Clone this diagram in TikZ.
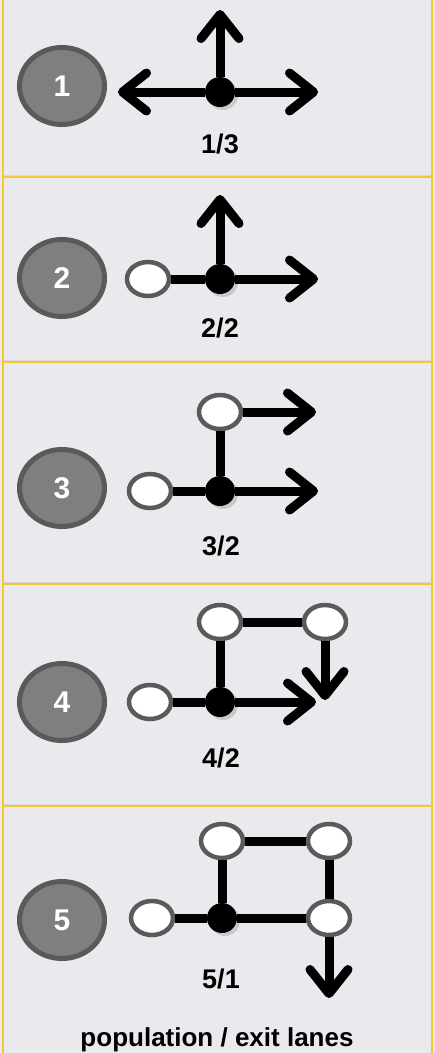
\documentclass[tikz,border=0pt]{standalone}
\usepackage{fontspec}
\setmainfont{Liberation Sans}
\usetikzlibrary{arrows.meta,shapes.geometric,shadows}
\definecolor{bg}{RGB}{233,233,238}
\definecolor{frame}{RGB}{245,200,50}
\definecolor{numfill}{RGB}{127,127,127}
\definecolor{numedge}{RGB}{90,90,90}
\tikzset{
  numnode/.style={ellipse, minimum width=85pt, minimum height=77pt, inner sep=0pt,
    draw=numedge, line width=5pt, fill=numfill, text=white,
    font=\bfseries\fontsize{30}{30}\selectfont},
  opennode/.style={ellipse, minimum width=42pt, minimum height=34pt, inner sep=0pt,
    draw=numedge, line width=4.5pt, fill=white},
  junc/.style={circle, fill=black, minimum size=30pt, inner sep=0pt,
    drop shadow={opacity=0.3, shadow xshift=3pt, shadow yshift=-3pt}},
  lane/.style={line width=9pt, draw=black, line cap=butt,
    preaction={draw=black, opacity=0.3, transform canvas={shift={(3pt,-3pt)}}}},
  arr/.style={lane, -{Straight Barb[length=24pt,width=38pt,round]}},
  lbl/.style={anchor=base, font=\bfseries\fontsize{27}{27}\selectfont},
  sep/.style={draw=frame, line width=2pt}
}
\begin{document}
\begin{tikzpicture}[x=1pt,y=-1pt]
\fill[bg] (0,0) rectangle (435,1053);
\useasboundingbox (0,0) rectangle (435,1053);
% frame
\draw[sep] (3,0) -- (3,1053);
\draw[sep] (432,0) -- (432,1053);
\foreach \yy in {177,362,584,806} {
  \draw[draw=black!15, line width=1pt] (4,\yy-2) -- (431,\yy-2);
  \draw[sep] (3,\yy) -- (432,\yy);
}

% ---------- panel 1
\node[numnode] (c1) at (62,86) {1};
\node[junc] (j1) at (220,92) {};
\coordinate (l1) at (118,92);
\coordinate (r1) at (318,92);
\coordinate (u1) at (220,10);
\draw[arr] (j1) -- (l1);
\draw[arr] (j1) -- (r1);
\draw[arr] (j1) -- (u1);
\node[lbl] (t1) at (220,153) {1/3};

% ---------- panel 2
\node[numnode] (c2) at (62,278) {2};
\node[opennode] (o2) at (148,279) {};
\node[junc] (j2) at (220,279) {};
\coordinate (r2) at (318,279);
\coordinate (u2) at (220,195);
\draw[lane] (o2) -- (j2);
\draw[arr] (j2) -- (r2);
\draw[arr] (j2) -- (u2);
\node[lbl] (t2) at (220,337) {2/2};

% ---------- panel 3
\node[numnode] (c3) at (62,488) {3};
\node[opennode] (o3) at (150,491) {};
\node[junc] (j3) at (220,491) {};
\node[opennode] (n3) at (220,412) {};
\coordinate (r3) at (318,491);
\coordinate (s3) at (316,412);
\draw[lane] (o3) -- (j3);
\draw[lane] (j3) -- (n3);
\draw[arr] (j3) -- (r3);
\draw[arr] (n3) -- (s3);
\node[lbl] (t3) at (221,555) {3/2};

% ---------- panel 4
\node[numnode] (c4) at (62,702) {4};
\node[opennode] (o4) at (150,702) {};
\node[junc] (j4) at (220,702) {};
\node[opennode] (n4) at (220,622) {};
\node[opennode] (m4) at (325,622) {};
\coordinate (r4) at (316,702);
\coordinate (d4) at (325,700);
\draw[lane] (o4) -- (j4);
\draw[lane] (j4) -- (n4);
\draw[lane] (n4) -- (m4);
\draw[arr] (j4) -- (r4);
\draw[arr] (m4) -- (d4);
\node[lbl] (t4) at (221,767) {4/2};

% ---------- panel 5
\node[numnode] (c5) at (62,920) {5};
\node[opennode] (o5) at (152,918) {};
\node[junc] (j5) at (222,918) {};
\node[opennode] (n5) at (222,841) {};
\node[opennode] (m5) at (329,841) {};
\node[opennode] (k5) at (329,918) {};
\coordinate (d5) at (329,998);
\draw[lane] (o5) -- (j5);
\draw[lane] (j5) -- (k5);
\draw[lane] (j5) -- (n5);
\draw[lane] (n5) -- (m5);
\draw[lane] (m5) -- (k5);
\draw[arr] (k5) -- (d5);
\node[lbl] (t5) at (221,988) {5/1};

\node[anchor=base, font=\bfseries\fontsize{26}{26}\selectfont] (cap) at (217,1046) {population / exit lanes};
\end{tikzpicture}
\end{document}
